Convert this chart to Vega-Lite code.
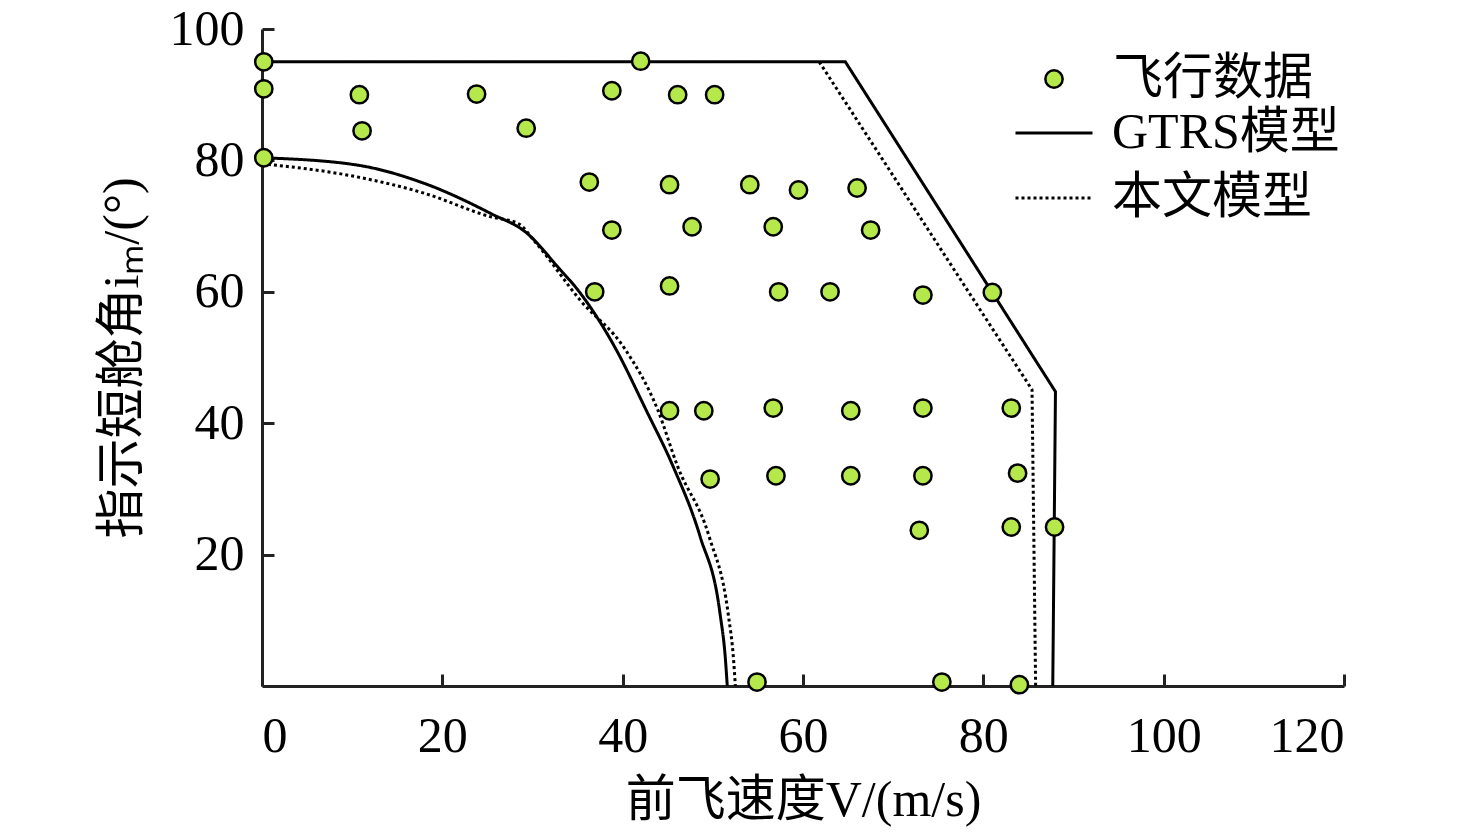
{
  "$schema": "https://vega.github.io/schema/vega-lite/v6.json",
  "width": 1082,
  "height": 657,
  "autosize": "none",
  "padding": {"left": 262, "top": 29, "right": 132, "bottom": 154},
  "background": "white",
  "config": {
    "view": {"stroke": null},
    "font": "Liberation Serif, Noto Sans CJK SC",
    "axis": {
      "domainColor": "#222",
      "domainWidth": 3,
      "tickColor": "#222",
      "tickWidth": 3,
      "tickSize": -12,
      "grid": false,
      "labelFont": "Liberation Serif",
      "labelFontSize": 50,
      "labelColor": "black",
      "titleFont": "Liberation Serif, Noto Sans CJK SC",
      "titleFontSize": 50,
      "titleFontWeight": "normal",
      "titleColor": "black"
    },
    "legend": {
      "title": null,
      "orient": "none",
      "labelFontSize": 50,
      "labelFont": "Liberation Serif, Noto Sans CJK SC",
      "labelColor": "black",
      "labelLimit": 600,
      "rowPadding": 5
    }
  },
  "datasets": {
    "lines": [
      {"series": "GTRS模型", "seg": "g1", "i": 1, "v": 0, "a": 95},
      {"series": "GTRS模型", "seg": "g1", "i": 2, "v": 64.7, "a": 95},
      {"series": "GTRS模型", "seg": "g1", "i": 3, "v": 88.0, "a": 44.8},
      {"series": "GTRS模型", "seg": "g1", "i": 4, "v": 87.7, "a": 0},
      {"series": "GTRS模型", "seg": "g2", "i": 1, "v": 0, "a": 80.4},
      {"series": "GTRS模型", "seg": "g2", "i": 2, "v": 10.5, "a": 79.3},
      {"series": "GTRS模型", "seg": "g2", "i": 3, "v": 18, "a": 76.5},
      {"series": "GTRS模型", "seg": "g2", "i": 4, "v": 25.4, "a": 71.9},
      {"series": "GTRS模型", "seg": "g2", "i": 5, "v": 29.4, "a": 68.9},
      {"series": "GTRS模型", "seg": "g2", "i": 6, "v": 32.8, "a": 63.8},
      {"series": "GTRS模型", "seg": "g2", "i": 7, "v": 35.3, "a": 59.8},
      {"series": "GTRS模型", "seg": "g2", "i": 8, "v": 39.2, "a": 51.4},
      {"series": "GTRS模型", "seg": "g2", "i": 9, "v": 42.6, "a": 42},
      {"series": "GTRS模型", "seg": "g2", "i": 10, "v": 45.6, "a": 33.4},
      {"series": "GTRS模型", "seg": "g2", "i": 11, "v": 48.6, "a": 22.7},
      {"series": "GTRS模型", "seg": "g2", "i": 12, "v": 50.8, "a": 11},
      {"series": "GTRS模型", "seg": "g2", "i": 13, "v": 51.4, "a": 4},
      {"series": "GTRS模型", "seg": "g2", "i": 14, "v": 51.6, "a": 0},
      {"series": "本文模型", "seg": "b1", "i": 1, "v": 61.8, "a": 95},
      {"series": "本文模型", "seg": "b1", "i": 2, "v": 85.4, "a": 45.1},
      {"series": "本文模型", "seg": "b1", "i": 3, "v": 85.8, "a": 0},
      {"series": "本文模型", "seg": "b2", "i": 1, "v": 0, "a": 79.5},
      {"series": "本文模型", "seg": "b2", "i": 2, "v": 10.5, "a": 77.5},
      {"series": "本文模型", "seg": "b2", "i": 3, "v": 18, "a": 75},
      {"series": "本文模型", "seg": "b2", "i": 4, "v": 25.4, "a": 71.4},
      {"series": "本文模型", "seg": "b2", "i": 5, "v": 28.4, "a": 70.4},
      {"series": "本文模型", "seg": "b2", "i": 6, "v": 30.4, "a": 67.4},
      {"series": "本文模型", "seg": "b2", "i": 7, "v": 35.3, "a": 58.7},
      {"series": "本文模型", "seg": "b2", "i": 8, "v": 40.2, "a": 51.4},
      {"series": "本文模型", "seg": "b2", "i": 9, "v": 43.9, "a": 42},
      {"series": "本文模型", "seg": "b2", "i": 10, "v": 46.1, "a": 33.4},
      {"series": "本文模型", "seg": "b2", "i": 11, "v": 49.6, "a": 22.7},
      {"series": "本文模型", "seg": "b2", "i": 12, "v": 51.7, "a": 11},
      {"series": "本文模型", "seg": "b2", "i": 13, "v": 52.3, "a": 4},
      {"series": "本文模型", "seg": "b2", "i": 14, "v": 52.5, "a": 0}
    ],
    "flight": [
      {"series": "飞行数据", "v": 0.2, "a": 95},
      {"series": "飞行数据", "v": 0.2, "a": 90.9},
      {"series": "飞行数据", "v": 0.2, "a": 80.4},
      {"series": "飞行数据", "v": 10.8, "a": 90.0},
      {"series": "飞行数据", "v": 11.1, "a": 84.5},
      {"series": "飞行数据", "v": 23.8, "a": 90.1},
      {"series": "飞行数据", "v": 29.3, "a": 84.9},
      {"series": "飞行数据", "v": 42.0, "a": 95.1},
      {"series": "飞行数据", "v": 38.8, "a": 90.6},
      {"series": "飞行数据", "v": 46.1, "a": 90.0},
      {"series": "飞行数据", "v": 50.2, "a": 90.0},
      {"series": "飞行数据", "v": 36.3, "a": 76.7},
      {"series": "飞行数据", "v": 38.8, "a": 69.4},
      {"series": "飞行数据", "v": 45.2, "a": 76.3},
      {"series": "飞行数据", "v": 47.7, "a": 69.9},
      {"series": "飞行数据", "v": 36.9, "a": 60.0},
      {"series": "飞行数据", "v": 45.2, "a": 60.9},
      {"series": "飞行数据", "v": 54.1, "a": 76.3},
      {"series": "飞行数据", "v": 56.7, "a": 69.9},
      {"series": "飞行数据", "v": 59.5, "a": 75.5},
      {"series": "飞行数据", "v": 66.0, "a": 75.8},
      {"series": "飞行数据", "v": 67.5, "a": 69.4},
      {"series": "飞行数据", "v": 57.3, "a": 60.0},
      {"series": "飞行数据", "v": 63.0, "a": 60.0},
      {"series": "飞行数据", "v": 73.3, "a": 59.5},
      {"series": "飞行数据", "v": 81.0, "a": 59.9},
      {"series": "飞行数据", "v": 45.2, "a": 41.9},
      {"series": "飞行数据", "v": 49.0, "a": 41.9},
      {"series": "飞行数据", "v": 56.7, "a": 42.3},
      {"series": "飞行数据", "v": 65.3, "a": 41.9},
      {"series": "飞行数据", "v": 73.3, "a": 42.3},
      {"series": "飞行数据", "v": 83.1, "a": 42.3},
      {"series": "飞行数据", "v": 49.7, "a": 31.5},
      {"series": "飞行数据", "v": 57.0, "a": 32.0},
      {"series": "飞行数据", "v": 65.3, "a": 32.0},
      {"series": "飞行数据", "v": 73.3, "a": 32.0},
      {"series": "飞行数据", "v": 83.8, "a": 32.4},
      {"series": "飞行数据", "v": 72.9, "a": 23.7},
      {"series": "飞行数据", "v": 83.1, "a": 24.2},
      {"series": "飞行数据", "v": 87.9, "a": 24.2},
      {"series": "飞行数据", "v": 54.9, "a": 0.6},
      {"series": "飞行数据", "v": 75.4, "a": 0.6},
      {"series": "飞行数据", "v": 84.0, "a": 0.2}
    ]
  },
  "encoding": {
    "x": {
      "field": "v",
      "type": "quantitative",
      "scale": {"domain": [0, 120], "nice": false, "zero": false},
      "axis": {
        "values": [0, 20, 40, 60, 80, 100, 120],
        "title": "前飞速度V/(m/s)",
        "labelPadding": 37,
        "titlePadding": 14
      }
    },
    "y": {
      "field": "a",
      "type": "quantitative",
      "scale": {"domain": [0, 100], "nice": false},
      "axis": {
        "values": [20, 40, 60, 80, 100],
        "title": "指示短舱角iₘ/(°)",
        "labelPadding": 30,
        "titlePadding": 22
      }
    }
  },
  "layer": [
    {
      "data": {"name": "lines"},
      "transform": [{"filter": "datum.seg === 'g1' || datum.seg === 'b1'"}],
      "mark": {"type": "line", "strokeWidth": 3, "color": "black", "clip": false},
      "encoding": {
        "detail": {"field": "seg"},
        "order": {"field": "i", "type": "quantitative"},
        "strokeDash": {
          "field": "series",
          "type": "nominal",
          "scale": {"domain": ["GTRS模型", "本文模型"], "range": [[1, 0], [3, 3]]},
          "legend": {
            "legendX": 752,
            "legendY": 64,
            "symbolType": "stroke",
            "symbolSize": 5929,
            "symbolStrokeColor": "black",
            "symbolStrokeWidth": 3,
            "labelOffset": 18,
            "rowPadding": -7
          }
        }
      }
    },
    {
      "data": {"name": "lines"},
      "transform": [{"filter": "datum.seg === 'g2' || datum.seg === 'b2'"}],
      "mark": {"type": "line", "strokeWidth": 3, "color": "black", "interpolate": "monotone", "clip": false},
      "encoding": {
        "detail": {"field": "seg"},
        "order": {"field": "i", "type": "quantitative"},
        "strokeDash": {"field": "series", "type": "nominal"}
      }
    },
    {
      "data": {"name": "flight"},
      "mark": {"type": "point", "shape": "circle", "filled": true, "size": 300, "strokeWidth": 2.5, "stroke": "black", "opacity": 1},
      "encoding": {
        "color": {
          "field": "series",
          "type": "nominal",
          "scale": {"domain": ["飞行数据"], "range": ["#b5e84a"]},
          "legend": {
            "legendX": 767,
            "legendY": 25,
            "symbolType": "circle",
            "symbolSize": 300,
            "symbolStrokeColor": "black",
            "symbolStrokeWidth": 2.5,
            "symbolOpacity": 1,
            "labelOffset": 34
          }
        }
      }
    }
  ]
}
